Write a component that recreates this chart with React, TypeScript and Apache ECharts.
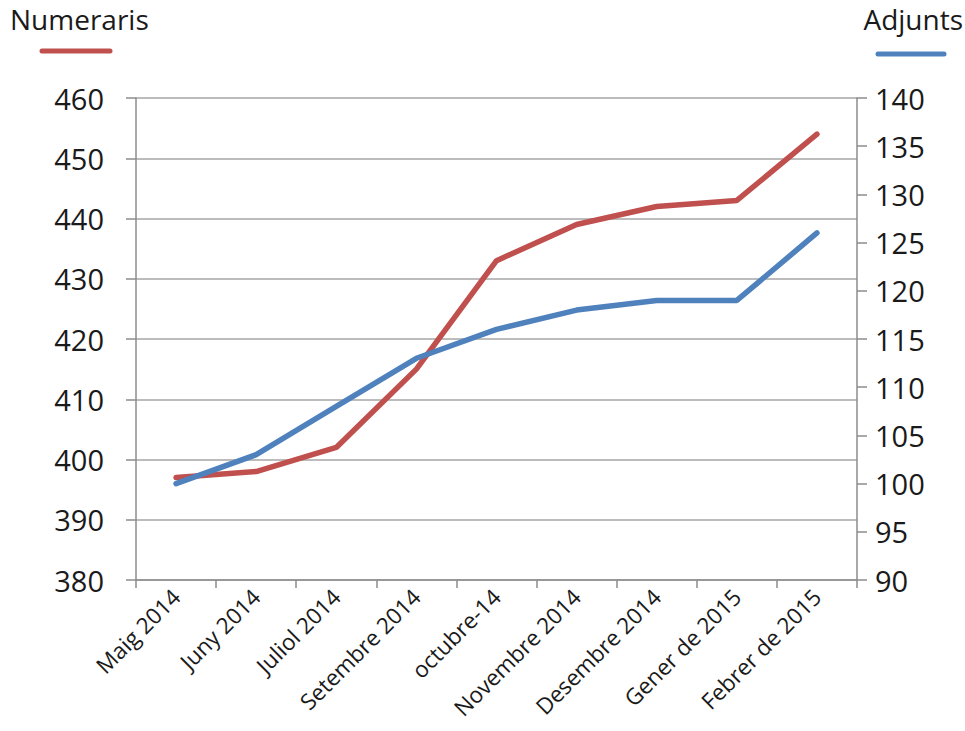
import React, { useEffect, useRef } from "react";
import * as echarts from "echarts";

const categories = [
  "Maig 2014",
  "Juny 2014",
  "Juliol 2014",
  "Setembre 2014",
  "octubre-14",
  "Novembre 2014",
  "Desembre 2014",
  "Gener de 2015",
  "Febrer de 2015",
];
const numeraris = [397, 398, 402, 415, 433, 439, 442, 443, 454];
const adjunts = [100, 103, 108, 113, 116, 118, 119, 119, 126];

const RED = "#C0504D";
const BLUE = "#4F81BD";
const FONT = "Open Sans";
const TEXT = "#1a1a1a";
const AXIS = "#8c8c8c";

export default function App() {
  const ref = useRef<HTMLDivElement>(null);
  useEffect(() => {
    if (!ref.current) return;
    const chart = echarts.init(ref.current, undefined, { renderer: "svg" });
    chart.setOption({
      animation: false,
      backgroundColor: "#ffffff",
      textStyle: { fontFamily: FONT },
      grid: { left: 136, right: 108, top: 98, bottom: 151, containLabel: false },
      xAxis: {
        type: "category",
        data: categories,
        boundaryGap: true,
        axisLine: { lineStyle: { color: AXIS, width: 1.5 } },
        axisTick: { show: true, length: 8, lineStyle: { color: AXIS, width: 1.5 } },
        axisLabel: { rotate: 45, fontSize: 22.5, color: TEXT, fontFamily: FONT, margin: 13 },
        splitLine: { show: false },
      },
      yAxis: [
        {
          type: "value",
          min: 380,
          max: 460,
          interval: 10,
          position: "left",
          axisLine: { show: true, lineStyle: { color: AXIS, width: 1.5 } },
          axisTick: { show: true, length: 10, lineStyle: { color: AXIS, width: 1.5 } },
          axisLabel: { fontSize: 29, color: TEXT, fontFamily: FONT, margin: 32 },
          splitLine: { show: true, lineStyle: { color: "#a6a6a6", width: 1.5 } },
        },
        {
          type: "value",
          min: 90,
          max: 140,
          interval: 5,
          position: "right",
          axisLine: { show: true, lineStyle: { color: AXIS, width: 1.5 } },
          axisTick: { show: true, length: 10, lineStyle: { color: AXIS, width: 1.5 } },
          axisLabel: { fontSize: 29, color: TEXT, fontFamily: FONT, margin: 18 },
          splitLine: { show: false },
        },
      ],
      graphic: [
        { type: "text", left: 10, top: 5, style: { text: "Numeraris", fontSize: 28, fontFamily: FONT, fill: TEXT } },
        { type: "line", shape: { x1: 42, y1: 51, x2: 110, y2: 51 }, style: { stroke: RED, lineWidth: 5, lineCap: "round" } },
        { type: "text", right: 2, top: 5, style: { text: "Adjunts", fontSize: 28, fontFamily: FONT, fill: TEXT } },
        { type: "line", shape: { x1: 878, y1: 54, x2: 944, y2: 54 }, style: { stroke: BLUE, lineWidth: 5, lineCap: "round" } },
      ],
      series: [
        {
          name: "Numeraris",
          type: "line",
          data: numeraris,
          yAxisIndex: 0,
          symbol: "none",
          lineStyle: { color: RED, width: 5.5, cap: "round" },
          itemStyle: { color: RED },
        },
        {
          name: "Adjunts",
          type: "line",
          data: adjunts,
          yAxisIndex: 1,
          symbol: "none",
          lineStyle: { color: BLUE, width: 5.5, cap: "round" },
          itemStyle: { color: BLUE },
        },
      ],
    });
    return () => chart.dispose();
  }, []);
  return (
    <div
      ref={ref}
      style={{ position: "fixed", left: 0, top: 0, width: 965, height: 731 }}
    />
  );
}
